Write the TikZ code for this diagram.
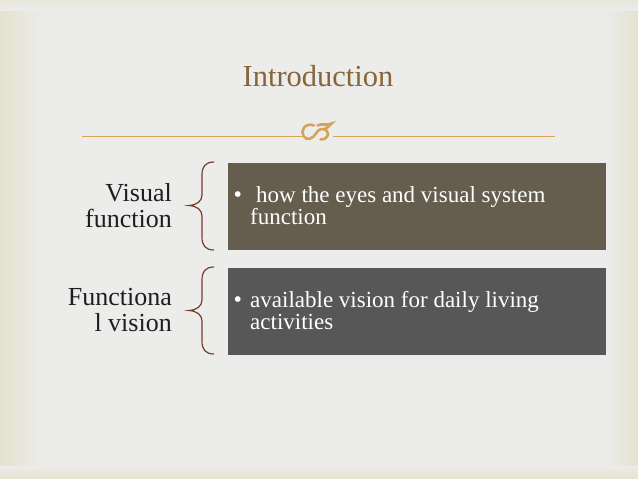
\documentclass[tikz,border=0pt]{standalone}
\usepackage{fontspec}
\setmainfont{Liberation Serif}
\definecolor{bgcol}{HTML}{ECECEB}
\definecolor{beige}{HTML}{E4E2CF}
\definecolor{titlecol}{HTML}{876539}
\definecolor{goldcol}{HTML}{D6A358}
\definecolor{bracecol}{HTML}{7A3B2A}
\definecolor{boxone}{HTML}{655E4F}
\definecolor{boxtwo}{HTML}{575757}
\definecolor{labelcol}{HTML}{1E1E1E}
\tikzset{
  contentbox/.style={draw=white!85!gray, line width=0.8pt, minimum width=379pt, minimum height=88pt, anchor=north west, inner sep=0pt},
  bracepath/.style={draw=bracecol, line width=1.2pt},
  sidelabel/.style={anchor=east, align=right, inner sep=0pt, text=labelcol, font=\fontsize{26}{26}\selectfont},
  boxtext/.style={anchor=west, align=left, inner sep=0pt, text=white, font=\fontsize{23}{22.5}\selectfont},
  ornament/.style={draw=goldcol, line width=2.6pt, line cap=round}
}
\newcommand{\mybullet}{\llap{\makebox[25pt]{\fontsize{24}{24}\selectfont\textbullet}}}
\begin{document}
\begin{tikzpicture}[x=1pt,y=-1pt]
\useasboundingbox (0,0) rectangle (638,479);
% background
\fill[bgcol] (0,0) rectangle (638,479);
\shade[left color=beige, right color=bgcol] (0,0) rectangle (45,479);
\shade[left color=bgcol, right color=beige] (605,0) rectangle (638,479);
\shade[top color=beige!60!bgcol, bottom color=bgcol] (0,0) rectangle (638,10);
\shade[top color=bgcol, bottom color=beige] (0,466) rectangle (638,479);
% title
\node[anchor=base, text=titlecol, font=\fontsize{30.5}{32}\selectfont, inner sep=0pt] (title) at (318,86) {Introduction};
% rule with ornament
\coordinate (ruleL) at (82,136);
\coordinate (ruleR) at (555,136);
\coordinate (ornL) at (302,136);
\coordinate (ornR) at (333,136);
\draw[goldcol, line width=0.9pt] (ruleL) -- (ornL);
\draw[goldcol, line width=0.9pt] (ornR) -- (ruleR);
\draw[ornament] (314,125.5) .. controls (305,122) and (300,131) .. (303.5,136) .. controls (306.5,141) and (313,139) .. (316,133.5);
\draw[ornament] (316,133.5) .. controls (318,129) and (323,127.5) .. (326.5,130.5) .. controls (330,134) and (327,140) .. (320.5,139.5);
\draw[ornament] (317.5,125.5) .. controls (321,123) and (327,126) .. (331.5,123.5) .. controls (329.5,126.5) and (326,128.5) .. (323.5,129.5);
% boxes
\node[contentbox, fill=boxone] (box1) at (227,162) {};
\node[contentbox, fill=boxtwo] (box2) at (227,267) {};
% braces
\draw[bracepath] (214,162) .. controls (205,162) and (202,167) .. (202,175) -- (202,195) .. controls (202,201) and (197,205) .. (189,205.5) .. controls (197,206) and (202,210) .. (202,216) -- (202,237) .. controls (202,245) and (205,250) .. (214,250);
\draw[bracepath] (214,267) .. controls (205,267) and (202,272) .. (202,280) -- (202,300) .. controls (202,306) and (197,310) .. (189,310.5) .. controls (197,311) and (202,315) .. (202,321) -- (202,341) .. controls (202,349) and (205,354) .. (214,354);
% labels
\node[sidelabel] (lab1) at (172,205.5) {Visual\\function};
\node[sidelabel] (lab2) at (172,310.5) {Functiona\\l vision};
% box texts
\node[boxtext] (txt1) at (250,205.5) {\mybullet\hspace{6pt}how the eyes and visual system\\function};
\node[boxtext] (txt2) at (250,310.5) {\mybullet available vision for daily living\\activities};
\end{tikzpicture}
\end{document}
